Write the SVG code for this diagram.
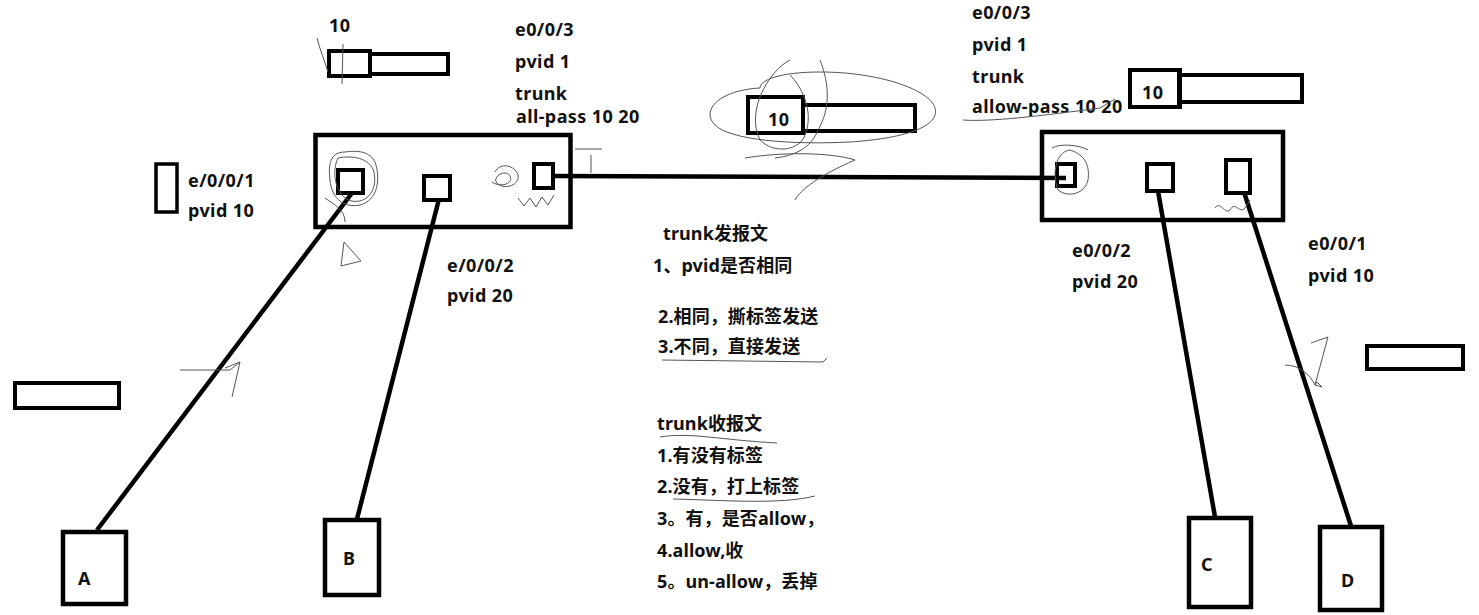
<svg xmlns="http://www.w3.org/2000/svg" width="1479" height="615" viewBox="0 0 1479 615">
<style>
.box{fill:none;stroke:#000;stroke-width:4.5}
.port{fill:none;stroke:#000;stroke-width:4}
.tag{fill:none;stroke:#000;stroke-width:4}
.link{fill:none;stroke:#000;stroke-width:4.5;stroke-linecap:butt}
.sc{fill:none;stroke:#555;stroke-width:1}
text{font-family:"Noto Sans","Noto Sans CJK SC",sans-serif;font-weight:bold;font-size:18px;fill:#111;letter-spacing:0.4px}
.cn{font-size:18px;letter-spacing:0.1px}
</style>
<rect width="1479" height="615" fill="#fff"/>

<g id="connectors">
<line class="link" x1="553" y1="176" x2="1066" y2="178"/>
<line class="link" x1="352" y1="193" x2="97" y2="530"/>
<line class="link" x1="439" y1="199" x2="357" y2="519"/>
<line class="link" x1="1158" y1="191" x2="1215" y2="517"/>
<line class="link" x1="1244" y1="192" x2="1351" y2="526"/>
</g>

<g id="switch-left">
<rect class="box" x="315.5" y="135" width="255" height="92"/>
<rect class="port" x="338" y="170" width="25" height="23"/>
<rect class="port" x="424" y="176" width="26" height="24"/>
<rect class="port" x="534" y="164" width="19" height="24"/>
</g>

<g id="switch-right">
<rect class="box" x="1042" y="132" width="241" height="88"/>
<rect class="port" x="1057" y="164" width="18" height="22"/>
<rect class="port" x="1147" y="164" width="26" height="27"/>
<rect class="port" x="1226" y="160" width="24" height="33"/>
</g>

<g id="host-a"><rect class="box" x="63" y="532" width="63" height="72"/><text x="78" y="585">A</text></g>
<g id="host-b"><rect class="box" x="325" y="520" width="54" height="75"/><text x="343" y="565">B</text></g>
<g id="host-c"><rect class="box" x="1189" y="518" width="62" height="89"/><text x="1201" y="571">C</text></g>
<g id="host-d"><rect class="box" x="1320" y="527" width="62" height="83"/><text x="1341" y="587">D</text></g>

<g id="tag-topleft">
<rect class="tag" x="329" y="51" width="41" height="25"/>
<rect class="tag" x="370" y="54" width="78" height="20"/>
<text x="329" y="32">10</text>
</g>
<g id="tag-center">
<rect class="tag" x="748" y="97" width="55" height="36"/>
<rect class="tag" x="803" y="105" width="112" height="26"/>
<text x="768" y="126">10</text>
</g>
<g id="tag-right">
<rect class="tag" x="1130" y="70" width="50" height="37"/>
<rect class="tag" x="1180" y="75" width="122" height="27"/>
<rect x="1177" y="72" width="5" height="33" fill="#000"/>
<text x="1142" y="99">10</text>
</g>

<g id="blank-left-small"><rect class="tag" x="156" y="164" width="21" height="48" style="stroke-width:3.5"/></g>
<g id="blank-left"><rect class="tag" x="15" y="383" width="104" height="25"/></g>
<g id="blank-right"><rect class="tag" x="1367" y="346" width="96" height="23"/></g>

<g id="labels-left">
<text x="515" y="36">e0/0/3</text>
<text x="515" y="68">pvid 1</text>
<text x="515" y="100">trunk</text>
<text x="516" y="123">all-pass 10 20</text>
<text x="188" y="187">e/0/0/1</text>
<text x="188" y="217">pvid 10</text>
<text x="447" y="272">e/0/0/2</text>
<text x="447" y="302">pvid 20</text>
</g>
<g id="labels-right">
<text x="972" y="19">e0/0/3</text>
<text x="972" y="51">pvid 1</text>
<text x="972" y="83">trunk</text>
<text x="972" y="113">allow-pass 10 20</text>
<text x="1072" y="257">e0/0/2</text>
<text x="1072" y="288">pvid 20</text>
<text x="1308" y="250">e0/0/1</text>
<text x="1308" y="282">pvid 10</text>
</g>
<g id="notes-send">
<text class="cn" x="663" y="240">trunk发报文</text>
<text class="cn" x="653" y="272">1、pvid是否相同</text>
<text class="cn" x="658" y="323">2.相同，撕标签发送</text>
<text class="cn" x="658" y="353">3.不同，直接发送</text>
</g>
<g id="notes-recv">
<text class="cn" x="657" y="430">trunk收报文</text>
<text class="cn" x="657" y="462">1.有没有标签</text>
<text class="cn" x="657" y="493">2.没有，打上标签</text>
<text class="cn" x="657" y="525">3。有，是否allow，</text>
<text class="cn" x="657" y="557">4.allow,收</text>
<text class="cn" x="657" y="588">5。un-allow，丢掉</text>
</g>

<g id="scribbles">
<path class="sc" d="M317,38 C320,50 325,62 328,72"/>
<path class="sc" d="M343,44 L342,84"/>
<path class="sc" d="M345,152 C330,152 328,165 330,180 C332,200 345,208 360,205 C378,200 380,180 376,165 C372,152 360,150 345,152 Z"/>
<path class="sc" d="M338,158 C332,170 334,192 348,200 C365,206 378,192 374,172 C370,158 352,155 338,158"/>
<path class="sc" d="M325,198 C335,205 345,210 345,222"/>
<path class="sc" d="M495,172 C500,162 515,165 518,175 C520,185 505,190 498,184 C490,178 505,168 510,176 C514,184 500,188 492,182"/>
<path class="sc" d="M518,198 L524,206 L530,198 L536,207 L542,197 L548,205 L554,195"/>
<path class="sc" d="M575,149 L602,149 M591,155 L591,173"/>
<path class="sc" d="M344,242 L341,266 L361,261 Z"/>
<path class="sc" d="M180,370 L230,370 L240,362 L232,397 M240,362 L225,368"/>
<path class="sc" d="M760,88 C720,90 700,110 715,125 C730,140 790,145 850,142 C910,138 940,125 935,108 C930,90 880,72 820,72 C780,72 760,80 760,88"/>
<path class="sc" d="M790,60 C770,70 745,110 760,140 C775,155 800,150 805,135 C815,110 800,85 790,75"/>
<path class="sc" d="M745,158 C780,152 830,152 855,160 C820,175 800,190 795,200"/>
<path class="sc" d="M820,60 C830,85 830,110 818,130 C812,145 800,155 775,158"/>
<path class="sc" d="M963,120 C990,122 1040,116 1100,108 L1115,99"/>
<path class="sc" d="M1052,148 C1060,143 1080,145 1088,150 M1070,150 C1055,152 1052,175 1058,190 C1068,198 1085,194 1088,180 C1090,165 1085,155 1070,150"/>
<path class="sc" d="M1215,208 C1220,200 1225,215 1230,210 C1235,200 1240,215 1245,208 L1250,200"/>
<path class="sc" d="M1285,365 C1300,365 1310,375 1315,385 L1328,337 L1311,343 M1315,385 L1317,382 L1322,387 Z"/>
<path class="sc" d="M662,360 L823,362 L827,358"/>
<path class="sc" d="M660,437 C690,432 720,440 777,443"/>
<path class="sc" d="M673,499 C720,500 780,505 815,496"/>
</g>
</svg>
